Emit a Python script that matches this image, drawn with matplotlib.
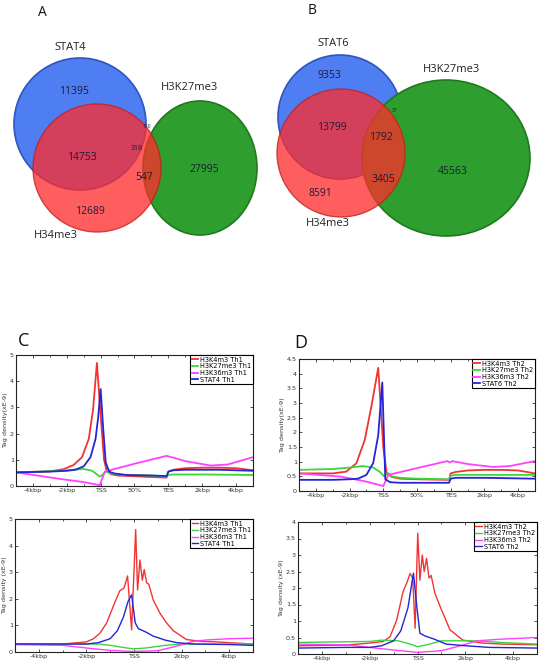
import numpy as np
import matplotlib
matplotlib.use("Agg")
import matplotlib.pyplot as plt
from matplotlib.patches import Circle, Ellipse
from matplotlib.ticker import MultipleLocator, FuncFormatter

# ---- Venn counts ----
venn_a_sets = ["STAT4", "H34me3", "H3K27me3"]
venn_a_counts = {"stat_only": 11395, "stat_h3k4": 14753, "h3k4_only": 12689,
                 "stat_k27": 150, "all3": 318, "h3k4_k27": 547, "k27_only": 27995}
venn_b_sets = ["STAT6", "H34me3", "H3K27me3"]
venn_b_counts = {"stat_only": 9353, "stat_h3k4": 13799, "h3k4_only": 8591,
                 "stat_k27": 37, "all3": 1792, "h3k4_k27": 3405, "k27_only": 45563}

# ---- metagene profiles (x: -5..TSS=0..TES=4..+5kb=9) ----
meta_ticks = [-4, -2, 0, 2, 4, 6, 8]
meta_labels = ["-4kbp", "-2kbp", "TSS", "50%", "TES", "2kbp", "4kbp"]

c_k4_x = [-5, -3, -2.2, -1.6, -1.1, -0.7, -0.45, -0.22, 0.0, 0.2, 0.35, 0.6, 1, 2, 3.9, 4.0, 4.3, 5, 6, 7, 8, 9]
c_k4_y = [0.52, 0.56, 0.64, 0.8, 1.1, 1.8, 2.9, 4.7, 2.7, 1.0, 0.6, 0.45, 0.4, 0.37, 0.32, 0.55, 0.62, 0.68, 0.7, 0.7, 0.68, 0.6]
c_k27_x = [-5, -3, -2, -1, -0.5, -0.05, 0.1, 0.3, 0.6, 1.5, 3, 3.9, 4.0, 4.3, 6, 9]
c_k27_y = [0.52, 0.56, 0.6, 0.65, 0.58, 0.36, 0.42, 0.55, 0.48, 0.42, 0.4, 0.36, 0.42, 0.44, 0.44, 0.42]
c_k36_x = [-5, -2.5, -1, -0.05, 0.25, 2, 3.9, 5, 6.5, 7.5, 9]
c_k36_y = [0.52, 0.28, 0.15, 0.03, 0.55, 0.85, 1.15, 0.95, 0.78, 0.82, 1.1]
c_stat_x = [-5, -3, -2, -1.5, -1, -0.6, -0.3, -0.15, 0.0, 0.15, 0.3, 0.5, 0.8, 1.5, 3, 3.9, 4.0, 4.3, 5, 6, 7, 8, 9]
c_stat_y = [0.52, 0.55, 0.58, 0.62, 0.75, 1.1, 1.8, 2.6, 3.7, 2.2, 0.9, 0.55, 0.48, 0.42, 0.4, 0.38, 0.55, 0.6, 0.62, 0.62, 0.62, 0.6, 0.58]

d_k4_x = [-5, -3, -2.2, -1.6, -1.1, -0.7, -0.3, 0.0, 0.2, 0.5, 1, 2, 3.9, 4.0, 4.3, 5, 6, 7, 8, 9]
d_k4_y = [0.6, 0.6, 0.66, 0.94, 1.74, 2.9, 4.2, 1.5, 0.6, 0.48, 0.42, 0.4, 0.38, 0.6, 0.65, 0.7, 0.72, 0.72, 0.7, 0.6]
d_k27_x = [-5, -3, -2, -1.2, -0.6, -0.2, 0.05, 0.25, 0.5, 1, 2, 3.9, 4.0, 4.3, 6, 9]
d_k27_y = [0.72, 0.75, 0.8, 0.85, 0.8, 0.65, 0.5, 0.62, 0.5, 0.45, 0.42, 0.4, 0.52, 0.55, 0.55, 0.55]
d_k36_x = [-5, -2.5, -1, 0.0, 0.3, 2, 3.8, 3.95, 4.1, 5, 6.5, 7.5, 9]
d_k36_y = [0.6, 0.49, 0.32, 0.17, 0.55, 0.78, 1.02, 0.97, 1.02, 0.92, 0.82, 0.85, 1.02]
d_stat_x = [-5, -3, -2, -1.5, -1, -0.6, -0.3, -0.06, 0.12, 0.4, 1, 2, 3.9, 4.0, 4.3, 6, 9]
d_stat_y = [0.38, 0.38, 0.4, 0.42, 0.55, 0.95, 1.9, 3.7, 0.4, 0.3, 0.28, 0.28, 0.28, 0.42, 0.45, 0.45, 0.42]

# ---- TSS-centred profiles (kbp) ----
tss_ticks = [-4, -2, 0, 2, 4]
tss_labels = ["-4kbp", "-2kbp", "TSS", "2kbp", "4kbp"]

e_k4_x = [-5, -4, -3, -2, -1.7, -1.43, -1.15, -0.88, -0.6, -0.42, -0.27, -0.1, 0.07, 0.15, 0.25, 0.35, 0.43, 0.53, 0.62, 0.81, 1.09, 1.37, 1.65, 2.2, 2.8, 3.5, 4, 5]
e_k4_y = [0.3, 0.3, 0.3, 0.38, 0.5, 0.71, 1.09, 1.7, 2.3, 2.4, 2.86, 0.83, 4.6, 2.33, 3.46, 2.7, 3.1, 2.6, 2.55, 1.95, 1.46, 1.09, 0.8, 0.47, 0.4, 0.38, 0.35, 0.3]
e_k27_x = [-5, -3, -1.5, -1, -0.3, 0, 0.5, 1.3, 2, 5]
e_k27_y = [0.3, 0.3, 0.3, 0.25, 0.15, 0.12, 0.15, 0.25, 0.3, 0.3]
e_k36_x = [-5, -3, -2, -1, 0, 1, 1.7, 2.5, 3, 4, 5]
e_k36_y = [0.28, 0.25, 0.15, 0.06, 0.02, 0.05, 0.2, 0.4, 0.45, 0.5, 0.52]
e_stat_x = [-5, -3, -2, -1.5, -1, -0.7, -0.45, -0.25, -0.1, 0.05, 0.18, 0.5, 0.8, 1.3, 1.8, 2.5, 4, 5]
e_stat_y = [0.3, 0.3, 0.3, 0.35, 0.5, 0.8, 1.3, 1.9, 2.15, 1.1, 0.88, 0.75, 0.6, 0.45, 0.35, 0.3, 0.28, 0.25]

f_k4_x = [-5, -3, -2, -1.43, -1.15, -0.87, -0.6, -0.45, -0.31, -0.2, -0.1, 0.01, 0.1, 0.2, 0.28, 0.38, 0.48, 0.57, 0.73, 0.94, 1.36, 1.9, 2.74, 3.58, 5]
f_k4_y = [0.25, 0.27, 0.33, 0.38, 0.52, 1.03, 1.9, 2.15, 2.44, 2.3, 0.78, 3.66, 2.24, 3.0, 2.5, 2.9, 2.3, 2.38, 1.84, 1.45, 0.73, 0.42, 0.33, 0.3, 0.28]
f_k27_x = [-5, -3, -2, -1.5, -0.8, -0.3, 0, 0.5, 1, 2.5, 3.5, 5]
f_k27_y = [0.35, 0.37, 0.38, 0.42, 0.4, 0.3, 0.22, 0.3, 0.4, 0.4, 0.35, 0.3]
f_k36_x = [-5, -3, -2, -1, 0, 1, 1.8, 2.5, 3.5, 5]
f_k36_y = [0.3, 0.28, 0.2, 0.12, 0.05, 0.1, 0.25, 0.4, 0.45, 0.5]
f_stat_x = [-5, -3, -2, -1.5, -1, -0.7, -0.4, -0.17, -0.03, 0.1, 0.3, 0.7, 1.2, 2, 3, 5]
f_stat_y = [0.18, 0.2, 0.2, 0.25, 0.4, 0.7, 1.4, 2.45, 1.45, 0.63, 0.55, 0.45, 0.3, 0.25, 0.2, 0.18]

th1_names = ["H3K4m3 Th1", "H3K27me3 Th1", "H3K36m3 Th1", "STAT4 Th1"]
th2_names = ["H3K4m3 Th2", "H3K27me3 Th2", "H3K36m3 Th2", "STAT6 Th2"]
line_colors = ["#f03434", "#3ad63a", "#ff40ff", "#2424d8"]

W, H = 541, 666
fig = plt.figure(figsize=(W / 100, H / 100), dpi=100)

# background axes in pixel coordinates for the Venn diagrams and panel letters
bg = fig.add_axes([0, 0, 1, 1])
bg.set_xlim(0, W)
bg.set_ylim(H, 0)
bg.axis("off")

blue, red, green = "#4f7df2", "#ff2c2c", "#2e9e2e"


def venn(cb, rb, cr, rr, cg, wg, hg, counts, pos, names, name_pos):
    bg.add_patch(Circle(cb, rb, fc=blue, ec="#2f55c0", lw=1.2, zorder=1))
    bg.add_patch(Ellipse(cg, wg, hg, fc=green, ec="#1f7a1f", lw=1.2, zorder=2))
    bg.add_patch(Circle(cr, rr, fc=red, ec="#c02020", lw=1.0, alpha=0.76, zorder=3))
    for k, v in counts.items():
        fs = 7.5
        if v < 200:
            fs = 3.5
        elif k == "all3" and v < 1000:
            fs = 5
        bg.text(pos[k][0], pos[k][1], str(v), ha="center", va="center",
                fontsize=fs, color="#1c1c38", family="Open Sans", zorder=5)
    for n, p in zip(names, name_pos):
        bg.text(p[0], p[1], n, ha="center", va="center", fontsize=8,
                color="#222222", family="Open Sans", zorder=5)


venn((80, 124), 66, (97, 168), 64, (200, 168), 114, 134, venn_a_counts,
     {"stat_only": (74, 91), "stat_h3k4": (82, 158), "h3k4_only": (90, 212),
      "stat_k27": (147, 126), "all3": (137, 149), "h3k4_k27": (144, 177),
      "k27_only": (204, 170)},
     venn_a_sets, [(70, 48), (56, 236), (190, 87)])
venn((340, 117), 62, (341, 153), 64, (446, 158), 168, 156, venn_b_counts,
     {"stat_only": (329, 76), "stat_h3k4": (332, 128), "h3k4_only": (320, 194),
      "stat_k27": (395, 110), "all3": (381, 138), "h3k4_k27": (383, 179),
      "k27_only": (453, 172)},
     venn_b_sets, [(333, 44), (328, 223), (452, 70)])

for letter, (x, y), fs in [("A", (42, 12), 10), ("B", (312, 11), 10),
                           ("C", (24, 341), 13), ("D", (301, 343), 13)]:
    bg.text(x, y, letter, ha="center", va="center", fontsize=fs,
            family="Open Sans", color="#111111")


def px_axes(l, t, r, b):
    return fig.add_axes([l / W, 1 - b / H, (r - l) / W, (b - t) / H])


fmt = FuncFormatter(lambda v, p: "%g" % v)


def profile(box, series, names, xlim, ylim, ystep, ticks, labels, ylabel, lw):
    ax = px_axes(*box)
    for (xs, ys), name, col in zip(series, names, line_colors):
        ax.plot(xs, ys, color=col, lw=lw, label=name)
    ax.set_xlim(*xlim)
    ax.set_ylim(*ylim)
    ax.set_xticks(ticks)
    ax.set_xticklabels(labels)
    ax.xaxis.set_minor_locator(MultipleLocator(1))
    ax.yaxis.set_major_locator(MultipleLocator(ystep))
    ax.yaxis.set_major_formatter(fmt)
    ax.tick_params(which="both", direction="in", top=True, right=True,
                   width=0.6, labelsize=4.6, pad=1.5, colors="#333333")
    ax.tick_params(which="major", length=2.5)
    ax.tick_params(which="minor", length=1.5)
    for s in ax.spines.values():
        s.set_linewidth(0.8)
        s.set_color("#222222")
    ax.set_ylabel(ylabel, fontsize=4.6, labelpad=1, color="#333333")
    leg = ax.legend(loc="upper right", fontsize=4.8, fancybox=False,
                    edgecolor="black", borderaxespad=0, handlelength=1.0,
                    handletextpad=0.3, borderpad=0.25, labelspacing=0.1,
                    framealpha=1)
    leg.get_frame().set_linewidth(0.8)
    return ax


profile((16, 355, 253, 486),
        [(c_k4_x, c_k4_y), (c_k27_x, c_k27_y), (c_k36_x, c_k36_y), (c_stat_x, c_stat_y)],
        th1_names, (-5, 9), (0, 5), 1, meta_ticks, meta_labels, "Tag density(xE-9)", 1.3)
profile((299, 359, 535, 491),
        [(d_k4_x, d_k4_y), (d_k27_x, d_k27_y), (d_k36_x, d_k36_y), (d_stat_x, d_stat_y)],
        th2_names, (-5, 9), (0, 4.5), 0.5, meta_ticks, meta_labels, "Tag density(xE-9)", 1.3)
profile((15, 519, 253, 652),
        [(e_k4_x, e_k4_y), (e_k27_x, e_k27_y), (e_k36_x, e_k36_y), (e_stat_x, e_stat_y)],
        th1_names, (-5, 5), (0, 5), 1, tss_ticks, tss_labels, "Tag density (xE-9)", 1.0)
profile((298, 522, 537, 654),
        [(f_k4_x, f_k4_y), (f_k27_x, f_k27_y), (f_k36_x, f_k36_y), (f_stat_x, f_stat_y)],
        th2_names, (-5, 5), (0, 4), 0.5, tss_ticks, tss_labels, "Tag density (xE-9)", 1.0)

fig.savefig("out.png", dpi=100)
